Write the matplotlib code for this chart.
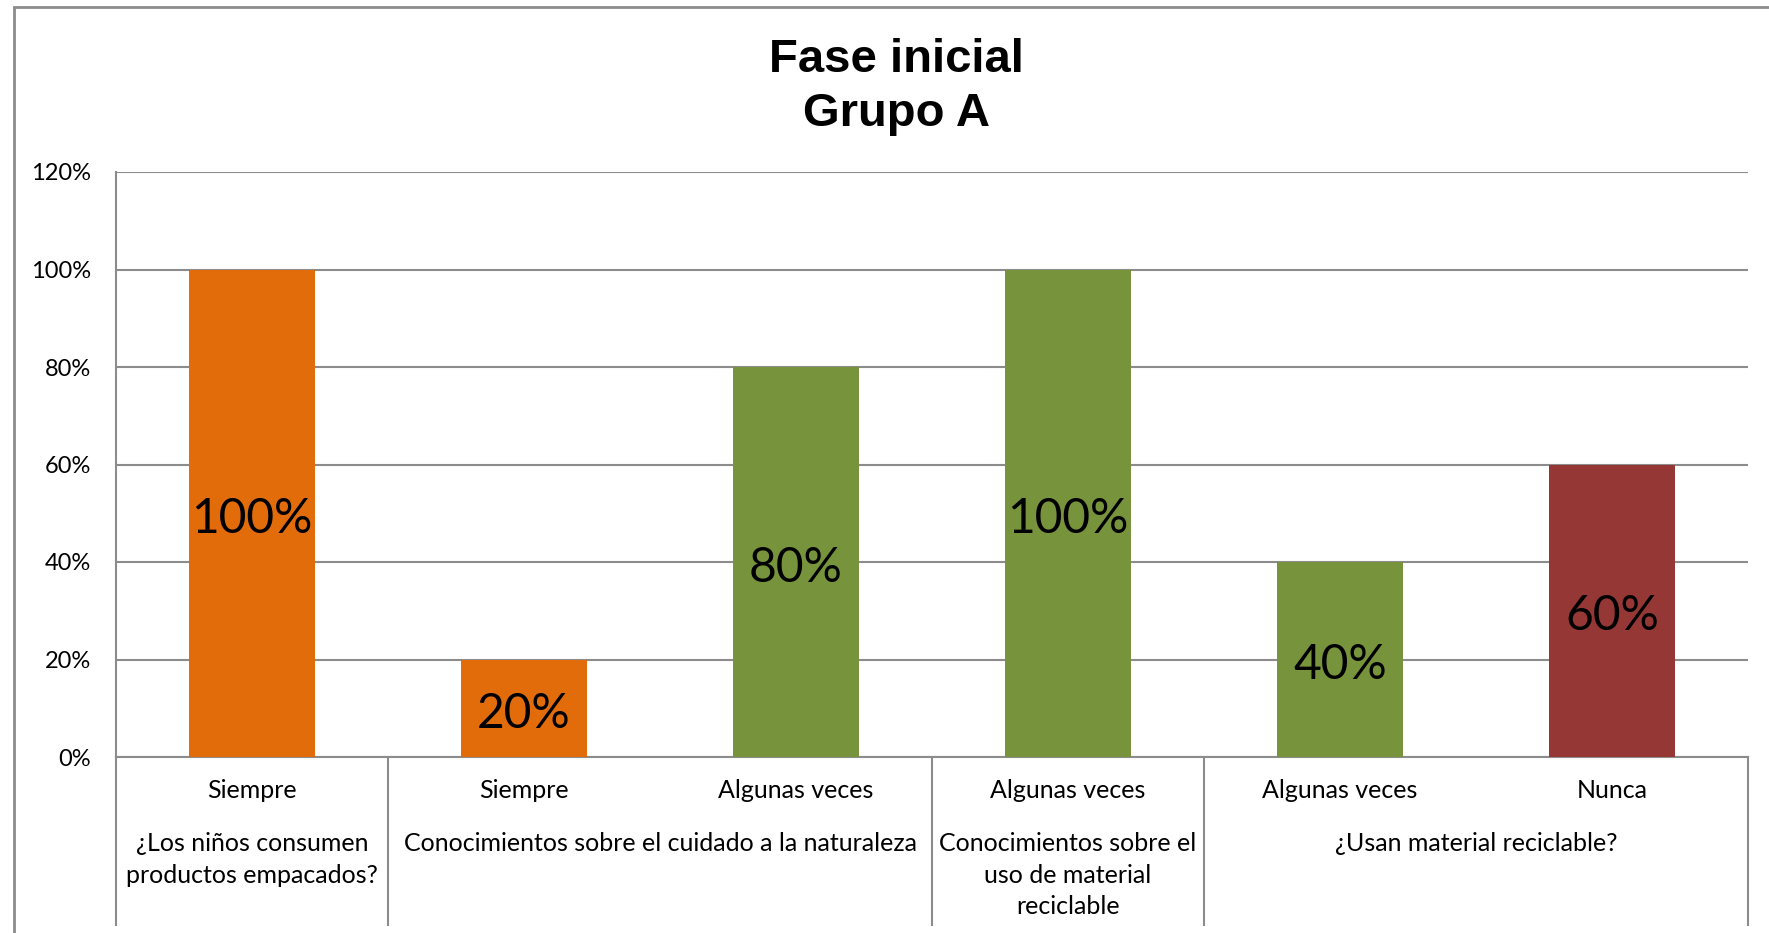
import numpy as np
import matplotlib
matplotlib.use("Agg")
import matplotlib.pyplot as plt
import matplotlib.transforms as mtransforms
from matplotlib.patches import Rectangle
from matplotlib.lines import Line2D

# data
answers = ["Siempre", "Siempre", "Algunas veces", "Algunas veces", "Algunas veces", "Nunca"]
values = [1.00, 0.20, 0.80, 1.00, 0.40, 0.60]
group_labels = ["¿Los niños consumen\nproductos empacados?",
                "Conocimientos sobre el cuidado a la naturaleza",
                "Conocimientos sobre el\nuso de material\nreciclable",
                "¿Usan material reciclable?"]
group_sizes = [1, 2, 1, 2]
answer_colors = {"Siempre": "#E36C0A", "Algunas veces": "#77933C", "Nunca": "#953735"}

W, H = 1769, 933
fig = plt.figure(figsize=(W / 100, H / 100), dpi=100)
fig.patch.set_facecolor("white")

# outer chart frame (runs off the right and bottom edges)
fig.add_artist(Rectangle((14 / W, -0.1), 1.2, 1 - 7 / H + 0.1, transform=fig.transFigure,
                         fill=False, edgecolor="#8c8c8c", linewidth=2))

left, right, top, bottom = 116, 1748, 172, 757
ax = fig.add_axes([left / W, 1 - bottom / H, (right - left) / W, (bottom - top) / H])

x = np.arange(len(values))
colors = [answer_colors[a] for a in answers]
bars = ax.bar(x, values, width=0.46, color=colors, zorder=3)

for xi, v in zip(x, values):
    ax.annotate(f"{int(round(v * 100))}%", (xi, v / 2), xytext=(0, -4),
                textcoords="offset points", ha="center", va="center",
                fontsize=34.5, family="Lato", color="black", zorder=4)

ax.set_xlim(-0.5, len(values) - 0.5)
ax.set_ylim(0, 1.2)
yt = np.arange(0, 1.21, 0.2)
ax.set_yticks(yt)
ax.set_yticklabels([f"{int(round(t * 100))}%" for t in yt], family="Lato", fontsize=17)
ax.tick_params(axis="y", length=0, pad=18)
ax.set_xticks([])
ax.grid(axis="y", color="#8c8c8c", linewidth=1.5, zorder=0)
for s in ["top", "right"]:
    ax.spines[s].set_visible(False)
ax.spines["left"].set_color("#8c8c8c")
ax.spines["left"].set_linewidth(1.5)
ax.spines["bottom"].set_color("#8c8c8c")
ax.spines["bottom"].set_linewidth(1.5)

# category axis labels below the plot
tr = mtransforms.blended_transform_factory(ax.transData, fig.transFigure)
for xi, a in zip(x, answers):
    ax.text(xi, 1 - 791 / H, a, transform=tr, ha="center", va="center",
            family="Lato", fontsize=18)

start = 0
edges = [-0.5]
for lab, n in zip(group_labels, group_sizes):
    cx = start + (n - 1) / 2
    ax.text(cx, 1 - 832 / H, lab, transform=tr, ha="center", va="top",
            family="Lato", fontsize=18, linespacing=1.45)
    start += n
    edges.append(start - 0.5)

for e in edges:
    fig.add_artist(Line2D([e, e], [1 - bottom / H, 1 - 925 / H], transform=tr,
                          color="#8c8c8c", linewidth=1.5))

fig.text(896 / W, 1 - 87 / H, "Fase inicial\nGrupo A", ha="center", va="center",
         family="Liberation Sans", fontweight="bold", fontsize=34, linespacing=1.3)

fig.savefig("out.png", dpi=100, facecolor="white")
